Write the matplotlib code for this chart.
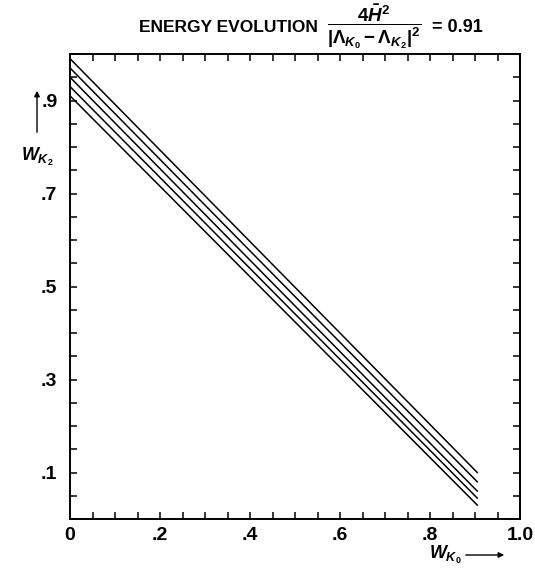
import matplotlib
matplotlib.use("Agg")
import matplotlib.pyplot as plt
from matplotlib.ticker import MultipleLocator

# === Data ===
w_k0 = [0.0, 0.905]
w_k2_start = [0.99, 0.97, 0.95, 0.93, 0.91]
w_k2_end = [0.10, 0.08, 0.06, 0.045, 0.03]

x_ticks = [0, 0.2, 0.4, 0.6, 0.8, 1.0]
x_labels = ["0", ".2", ".4", ".6", ".8", "1.0"]
y_ticks = [0.1, 0.3, 0.5, 0.7, 0.9]
y_labels = [".1", ".3", ".5", ".7", ".9"]

# === Fonts ===
plt.rcParams["font.family"] = ["Liberation Sans", "DejaVu Sans"]
plt.rcParams["font.weight"] = "bold"
plt.rcParams["mathtext.fontset"] = "custom"
plt.rcParams["mathtext.rm"] = "Liberation Sans:bold"
plt.rcParams["mathtext.it"] = "Liberation Sans:italic:bold"
plt.rcParams["mathtext.bf"] = "Liberation Sans:bold"

W, H = 535, 574
fig = plt.figure(figsize=(W / 100, H / 100), dpi=100)
ax = fig.add_axes([70 / W, 1 - 519 / H, 450 / W, 465 / H])

# === Lines ===
for y0, y1 in zip(w_k2_start, w_k2_end):
    ax.plot(w_k0, [y0, y1], color="black", lw=1.1)

ax.set_xlim(0, 1.0)
ax.set_ylim(0, 1.0)
ax.set_xticks(x_ticks)
ax.set_xticklabels(x_labels)
ax.set_yticks(y_ticks)
ax.set_yticklabels(y_labels)
ax.xaxis.set_minor_locator(MultipleLocator(0.05))
ax.yaxis.set_minor_locator(MultipleLocator(0.05))
ax.tick_params(which="both", direction="in", top=True, right=True, length=5, width=1.1)
ax.tick_params(axis="x", labelsize=14, pad=6)
ax.tick_params(axis="y", labelsize=14, pad=9)
for s in ax.spines.values():
    s.set_linewidth(1.4)

# === Title (text, fraction, value) ===
fig.text(318 / W, 1 - 28 / H, "ENERGY EVOLUTION",
         fontsize=12.5, fontweight="bold", va="center", ha="right")
fig.text(374 / W, 1 - 27 / H,
         r"$\dfrac{4\bar{H}^2}{|\Lambda_{K_0} - \Lambda_{K_2}|^2}$",
         fontsize=13.5, va="center", ha="center")
fig.text(432 / W, 1 - 27 / H, "= 0.91",
         fontsize=13, fontweight="bold", va="center", ha="left")

# === Axis labels with arrows ===
fig.text(37 / W, 1 - 157 / H, r"$W_{K_2}$", fontsize=13, ha="center", va="center")
ax.annotate("", xy=(37, H - 88), xytext=(37, H - 135), xycoords="figure pixels",
            textcoords="figure pixels",
            arrowprops=dict(arrowstyle="-|>", lw=1.0, color="black", mutation_scale=8))
fig.text(445 / W, 1 - 555 / H, r"$W_{K_0}$", fontsize=13, ha="center", va="center")
ax.annotate("", xy=(507, H - 555), xytext=(463, H - 555), xycoords="figure pixels",
            textcoords="figure pixels",
            arrowprops=dict(arrowstyle="-|>", lw=1.0, color="black", mutation_scale=8))

fig.savefig("out.png", dpi=100)
